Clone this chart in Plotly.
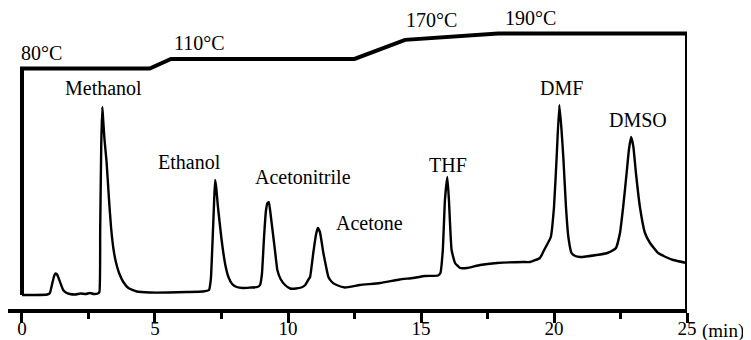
import plotly.graph_objects as go

# ---------------- data ----------------
# chromatogram (time in min, detector signal in arbitrary units)
time_min = [0.00, 0.50, 0.95, 1.05, 1.15, 1.22, 1.27, 1.33, 1.43, 1.55, 1.65, 1.80, 2.00, 2.20, 2.40, 2.55,
            2.70, 2.85, 2.91, 2.94, 2.98, 3.02, 3.05, 3.10, 3.18, 3.27, 3.35, 3.45, 3.53, 3.65, 3.81, 4.00,
            4.31, 4.80, 5.50, 6.20, 6.80, 7.03, 7.10, 7.17, 7.22, 7.26, 7.30, 7.36, 7.42, 7.50, 7.57, 7.66,
            7.76, 7.90, 8.07, 8.30, 8.60, 8.85, 8.95, 9.02, 9.10, 9.17, 9.23, 9.28, 9.34, 9.45, 9.53, 9.60,
            9.72, 9.89, 10.08, 10.30, 10.50, 10.65, 10.78, 10.83, 10.95, 11.05, 11.12, 11.20, 11.33, 11.45,
            11.52, 11.65, 11.83, 12.14, 12.70, 13.46, 14.20, 14.70, 15.15, 15.64, 15.73, 15.82, 15.90, 15.99,
            16.05, 16.15, 16.28, 16.47, 16.73, 17.22, 17.86, 18.83, 19.10, 19.47, 19.65, 19.88, 20.00, 20.10,
            20.20, 20.28, 20.35, 20.45, 20.54, 20.66, 20.80, 20.98, 21.60, 22.00, 22.17, 22.33, 22.48, 22.60,
            22.73, 22.82, 22.90, 22.98, 23.08, 23.23, 23.42, 23.61, 23.92, 24.20, 24.48, 25.00]
signal = [14, 14, 14.5, 16, 27, 34, 35.5, 34, 27, 19, 16.5, 15, 14.5, 15.5, 15, 16,
          15, 15.5, 17, 80, 165, 202, 190, 170, 147, 110, 81, 58, 47, 36, 27, 21,
          17.5, 16.5, 16.5, 17, 17.5, 19, 30, 72, 106, 129, 122, 104, 89, 70, 56, 42,
          32, 25, 22, 21, 21.5, 22, 24, 35, 72, 98, 106, 107, 96, 72, 54, 39,
          30, 24, 20.5, 20.5, 21.5, 24, 30, 32, 56, 74, 81, 77, 56, 40,
          32, 27, 24, 21.5, 24, 26, 29.5, 31, 33, 33.5, 36, 59, 109, 132,
          109, 59, 46, 41, 41, 44, 46, 47, 47, 51, 60, 72, 102, 152,
          204, 180, 152, 102, 72, 56, 53, 52, 54, 56, 58, 61, 76, 102,
          136, 160, 172, 163, 136, 102, 76, 66, 56, 52, 49, 46]

# oven temperature program
prog_time = [0, 4.8, 5.6, 12.5, 14.4, 17.9, 25]
prog_temp = [80, 80, 110, 110, 170, 190, 190]
temp_labels = ["80°C", "110°C", "170°C", "190°C"]
temp_label_time = [0.75, 6.69, 15.41, 19.1]
temp_label_temp = [130, 160, 232, 238]   # label positions on the temperature scale

# peak labels
peak_names = ["Methanol", "Ethanol", "Acetonitrile", "Acetone", "THF", "DMF", "DMSO"]
peak_label_time = [3.08, 6.28, 10.56, 13.08, 16.0, 20.3, 23.17]
peak_label_sig = [221, 147, 131.7, 85.7, 144, 220.7, 189]

x_ticks = [0, 5, 10, 15, 20, 25]
x_minor = [2.5, 7.5, 12.5, 17.5, 22.5]

# ---------------- axes scaling ----------------
Y_RANGE = [0, 301]
Y2_RANGE = [-675.3, 270.1]


def sig_to_temp(s):
    return Y2_RANGE[0] + (s - Y_RANGE[0]) / (Y_RANGE[1] - Y_RANGE[0]) * (Y2_RANGE[1] - Y2_RANGE[0])


FONT = "Liberation Serif"

fig = go.Figure()
fig.add_trace(go.Scatter(x=time_min, y=signal, mode="lines",
                         line=dict(color="black", width=2.4, shape="spline", smoothing=0.4),
                         hoverinfo="skip", showlegend=False, cliponaxis=False))
# temperature program with its frame down to the trace start and the axis end
fig.add_trace(go.Scatter(x=[prog_time[0]] + prog_time + [prog_time[-1]],
                         y=[sig_to_temp(signal[0])] + prog_temp + [sig_to_temp(0)],
                         yaxis="y2", mode="lines",
                         line=dict(color="black", width=4),
                         hoverinfo="skip", showlegend=False, cliponaxis=False))

for name, tx, sy in zip(peak_names, peak_label_time, peak_label_sig):
    fig.add_annotation(x=tx, y=sy, text=name, showarrow=False,
                       font=dict(family=FONT, size=20, color="black"))
for name, tx, ty in zip(temp_labels, temp_label_time, temp_label_temp):
    fig.add_annotation(x=tx, y=ty, yref="y2", text=name, showarrow=False,
                       font=dict(family=FONT, size=20, color="black"))
fig.add_annotation(x=x_ticks[-1], y=0, xref="x", yref="paper", text="(min)", showarrow=False,
                   xanchor="left", yanchor="top", xshift=13, yshift=-9,
                   font=dict(family=FONT, size=19, color="black"))

fig.update_layout(
    width=743, height=332,
    margin=dict(l=0, r=64, t=0, b=31),
    paper_bgcolor="white", plot_bgcolor="white",
    xaxis=dict(range=[-0.526, 25], showgrid=False, zeroline=False, automargin=False,
               showline=True, linecolor="black", linewidth=3.5,
               ticks="outside", tickwidth=3, ticklen=10, tickcolor="black",
               ticklabelstandoff=-11,
               tickvals=x_ticks, ticktext=[str(v) for v in x_ticks],
               tickfont=dict(family=FONT, size=19, color="black"),
               minor=dict(tickvals=x_minor, ticks="outside", ticklen=6, tickwidth=3, tickcolor="black")),
    yaxis=dict(range=Y_RANGE, visible=False, showgrid=False, zeroline=False),
    yaxis2=dict(range=Y2_RANGE, overlaying="y", visible=False, showgrid=False, zeroline=False),
)

fig.write_html("out.html")
